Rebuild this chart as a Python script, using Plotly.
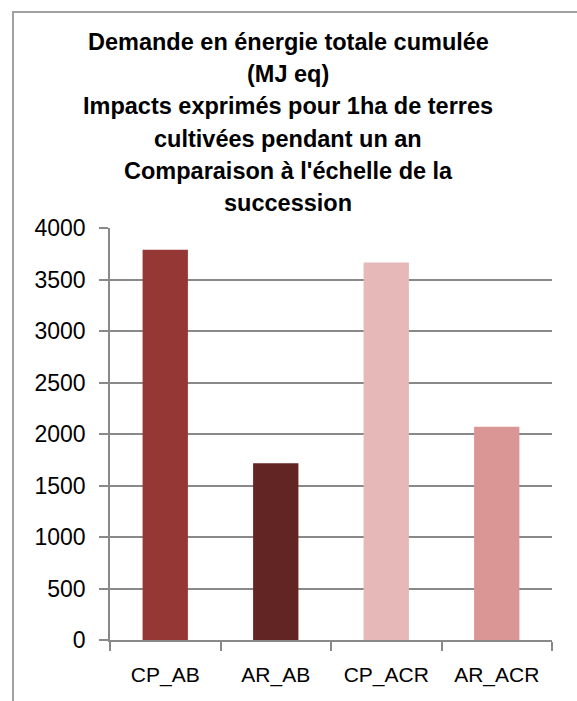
import plotly.graph_objects as go

categories = ["CP_AB", "AR_AB", "CP_ACR", "AR_ACR"]
values = [3790, 1715, 3665, 2070]
bar_colors = ["#953735", "#632523", "#E6B9B8", "#D99694"]
y_ticks = [0, 500, 1000, 1500, 2000, 2500, 3000, 3500, 4000]
title_lines = [
    "Demande en énergie totale cumulée",
    "(MJ eq)",
    "Impacts exprimés pour 1ha de terres",
    "cultivées pendant un an",
    "Comparaison à l'échelle de la",
    "succession",
]

W, H = 577, 701
L, R, T, B = 110, 25, 228, 61
FONT = "Liberation Sans"
GRID = "#898989"
TITLE_TOP = 42      # centre of first title line, px from top
TITLE_STEP = 32.2   # line spacing, px

fig = go.Figure(go.Bar(x=categories, y=values, marker=dict(color=bar_colors, line=dict(width=0))))

fig.update_layout(
    width=W, height=H,
    margin=dict(l=L, r=R, t=T, b=B, pad=0),
    paper_bgcolor="white", plot_bgcolor="white",
    bargap=0.59,
    showlegend=False,
    font=dict(family=FONT, color="black"),
)

pw = W - L - R
ph = H - T - B

# title, one line per annotation for exact line spacing
for i, line in enumerate(title_lines):
    ypix = TITLE_TOP + i * TITLE_STEP
    fig.add_annotation(
        text="<b>" + line + "</b>", showarrow=False,
        xref="paper", yref="paper",
        x=(288 - L) / pw, xanchor="center",
        y=1 + (T - ypix) / ph, yanchor="middle",
        font=dict(family=FONT, size=23.5, color="black"),
    )

fig.update_yaxes(
    range=[0, 4000], tickvals=y_ticks, ticktext=[str(v) for v in y_ticks],
    showgrid=True, gridcolor=GRID, gridwidth=1.5,
    showline=True, linecolor=GRID, linewidth=1.5,
    ticks="outside", ticklen=9, tickcolor=GRID, tickwidth=1.5,
    tickfont=dict(family=FONT, size=23, color="black"),
    ticklabelstandoff=9,
    zeroline=False,
)
fig.update_xaxes(
    showline=True, linecolor=GRID, linewidth=1.5,
    ticks="outside", ticklen=9, tickcolor=GRID, tickwidth=1.5,
    tickson="boundaries",
    tickfont=dict(family=FONT, size=21, color="black"),
    ticklabelstandoff=15,
    showgrid=False,
)

# outer chart border (extends beyond the right and bottom edges)
fig.add_shape(
    type="rect", xref="paper", yref="paper",
    x0=(13 - L) / pw, x1=(W + 20 - L) / pw,
    y0=-(B + 20) / ph, y1=1 + (T - 12) / ph,
    line=dict(color="#a0a0a0", width=2), fillcolor="rgba(0,0,0,0)", layer="below",
)

fig.write_html(
    "out.html",
    config={"displayModeBar": False},
    post_script="document.body.style.margin='0';document.body.style.padding='0';",
)
